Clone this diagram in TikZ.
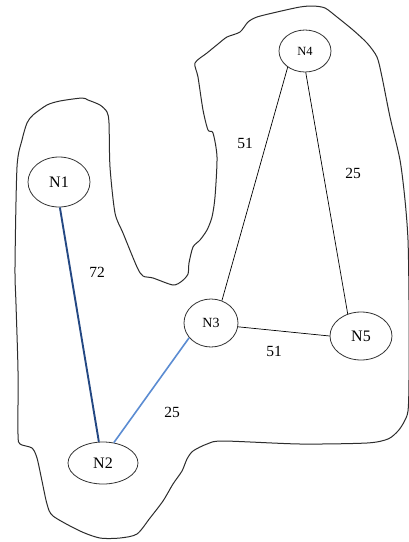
\documentclass[tikz,border=0pt]{standalone}
\usepackage{fontspec}
\setmainfont{Liberation Serif}
\usetikzlibrary{shapes.geometric}
\definecolor{darkedge}{HTML}{244883}
\definecolor{lightedge}{HTML}{5B8CD2}
\definecolor{outline}{HTML}{2C2C2C}
\tikzset{
  vertex/.style={draw=black!80, line width=0.8pt, ellipse, inner sep=0pt},
  link/.style={draw=black, line width=0.7pt},
  weight/.style={font=\fontsize{15.5}{15.5}\selectfont},
}
\begin{document}
\begin{tikzpicture}[x=1pt,y=-1pt]
\useasboundingbox (0,0) rectangle (409,542);
\fill[white] (0,0) rectangle (409,542);

% hand-drawn cluster outline
\draw[outline, line width=1pt] plot[smooth cycle, tension=0.45] coordinates {
 (195,63) (207,53) (218,44) (227,37) (240,32) (248,22) (257,17) (277,12)
 (300,7) (313,6) (325,8) (337,17) (353,30) (367,43) (377,57) (382,77)
 (390,117) (400,160) (405,200) (408,240) (409,300) (409,380) (408,411)
 (404,422) (398,431) (388,439) (367,443) (300,444) (223,441) (207,444)
 (193,451) (187,459) (182,471) (173,484) (163,501) (150,518) (137,534)
 (120,538) (100,538) (80,531) (53,516) (47,504) (42,481) (37,458)
 (32,448) (20,444) (18,434) (18,371) (16,304) (15,267) (17,167) (22,140)
 (27,123) (33,115) (47,105) (60,101) (82,98) (88,100) (100,105) (107,112)
 (109,123) (110,167) (115,213) (123,233) (137,267) (143,276) (153,278)
 (173,285) (182,281) (188,274) (189,263) (193,247) (200,240) (207,230)
 (212,217) (215,197) (217,157) (213,133) (208,130) (203,110) (198,77)
};

% vertices
\node[vertex, minimum width=62pt, minimum height=50pt, font=\fontsize{16}{16}\selectfont] (n1) at (59,182) {N1};
\node[vertex, minimum width=70pt, minimum height=42pt, font=\fontsize{16}{16}\selectfont] (n2) at (103,463) {N2};
\node[vertex, minimum width=54pt, minimum height=48pt, font=\fontsize{14}{14}\selectfont] (n3) at (211,323) {N3};
\node[vertex, minimum width=52pt, minimum height=42pt, font=\fontsize{12.5}{12.5}\selectfont] (n4) at (305,51) {N4};
\node[vertex, minimum width=62pt, minimum height=48pt, font=\fontsize{16}{16}\selectfont] (n5) at (361,336) {N5};

% edges
\draw[darkedge, line width=1.9pt] (n1.272) -- (n2.101);
\draw[lightedge, line width=1.6pt] (n2.62) -- (n3.214);
\draw[link] (n3.64) -- (n4.223);
\draw[link] (n4.272) -- (n5.121);
\draw[link] (n3.-8) -- (n5.180);

% weights
\node[weight] (w12) at (97,272) {72};
\node[weight] (w34) at (245,143) {51};
\node[weight] (w45) at (353,173) {25};
\node[weight] (w35) at (274,351) {51};
\node[weight] (w23) at (172,412) {25};
\end{tikzpicture}
\end{document}
